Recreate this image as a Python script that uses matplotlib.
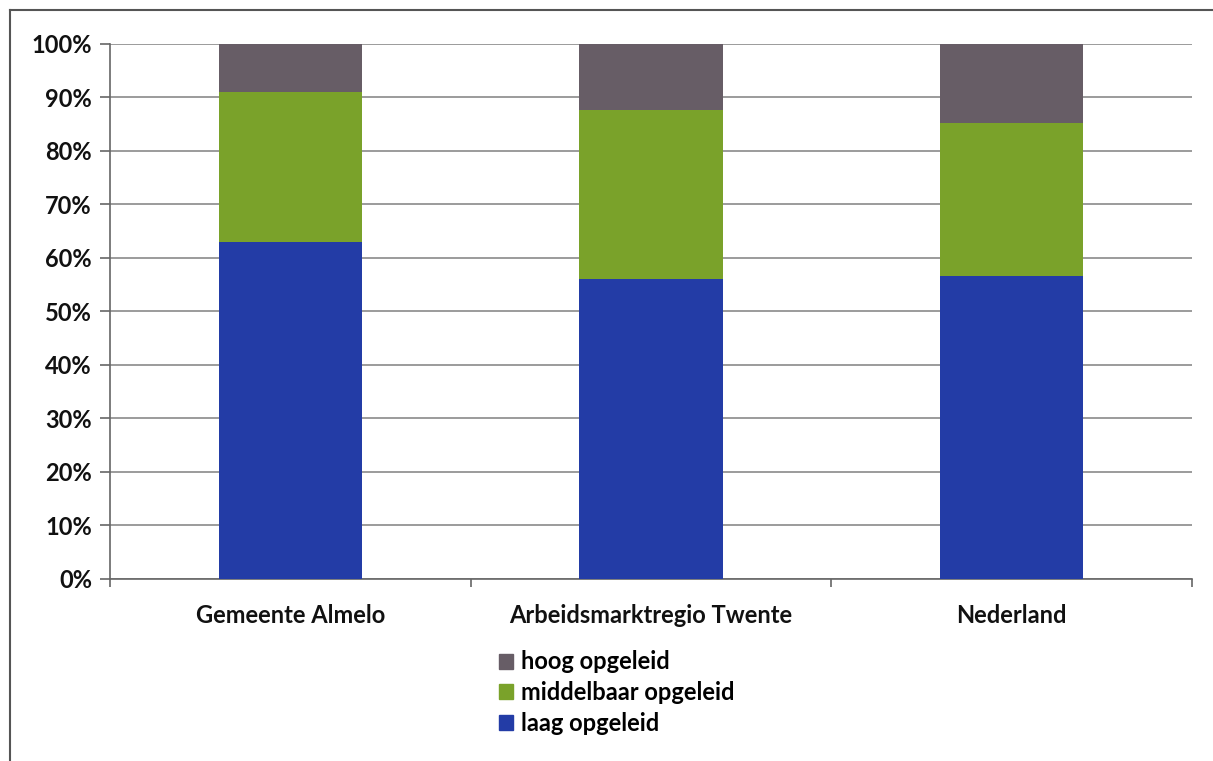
import numpy as np
import matplotlib
matplotlib.use('Agg')
import matplotlib.pyplot as plt
from matplotlib.lines import Line2D
from matplotlib.patches import Patch

plt.rcParams['font.family'] = ['Lato', 'DejaVu Sans']

regions = ['Gemeente Almelo', 'Arbeidsmarktregio Twente', 'Nederland']
laag = [63.0, 56.1, 56.6]
middelbaar = [28.0, 31.6, 28.6]
hoog = [9.0, 12.3, 14.8]
yticks = [0, 10, 20, 30, 40, 50, 60, 70, 80, 90, 100]

c_laag = '#233ca6'
c_mid = '#7aa22a'
c_hoog = '#675d66'

fig = plt.figure(figsize=(12.13, 7.61), dpi=100)
ax = fig.add_axes([0.0907, 0.2392, 0.892, 0.703])

x = np.arange(len(regions))
w = 0.397
laag = np.array(laag)
middelbaar = np.array(middelbaar)
hoog = np.array(hoog)
ax.bar(x, laag, w, color=c_laag, zorder=3)
ax.bar(x, middelbaar, w, bottom=laag, color=c_mid, zorder=3)
ax.bar(x, hoog, w, bottom=laag + middelbaar, color=c_hoog, zorder=3)

ax.set_xlim(-0.5, len(regions) - 0.5)
ax.set_ylim(0, 100)
ax.set_yticks(yticks)
ax.set_yticklabels([f'{v}%' for v in yticks])
ax.yaxis.grid(True, color='#8a8a8a', linewidth=1.2, zorder=0)
ax.set_xticks(x)
ax.set_xticklabels(regions)
ax.set_xticks(np.arange(len(regions) + 1) - 0.5, minor=True)
ax.tick_params(axis='x', which='major', length=0, pad=18)
ax.tick_params(axis='x', which='minor', length=6, color='#666666', width=1.2)
ax.tick_params(axis='y', length=7, color='#666666', width=1.2, pad=6)
for lab in ax.get_xticklabels() + ax.get_yticklabels():
    lab.set_fontsize(17)
    lab.set_fontweight('bold')
    lab.set_color('#111111')

for s in ['top', 'right']:
    ax.spines[s].set_visible(False)
for s in ['left', 'bottom']:
    ax.spines[s].set_color('#666666')
    ax.spines[s].set_linewidth(1.2)

handles = [Patch(color=c_hoog), Patch(color=c_mid), Patch(color=c_laag)]
labels = ['hoog opgeleid', 'middelbaar opgeleid', 'laag opgeleid']
fig.legend(handles, labels, loc='upper left', bbox_to_anchor=(0.398, 0.167),
           frameon=False, handlelength=0.6, handleheight=0.6, handletextpad=0.3,
           labelspacing=0.32, borderpad=0.2, prop={'size': 17, 'weight': 'bold'})

# outer frame of the chart object
fig.add_artist(Line2D([0.0082, 1.0], [0.987, 0.987], transform=fig.transFigure,
                      color='#555555', linewidth=1.5))
fig.add_artist(Line2D([0.0082, 0.0082], [0.0, 0.987], transform=fig.transFigure,
                      color='#555555', linewidth=1.5))

fig.savefig('out.png', dpi=100)
